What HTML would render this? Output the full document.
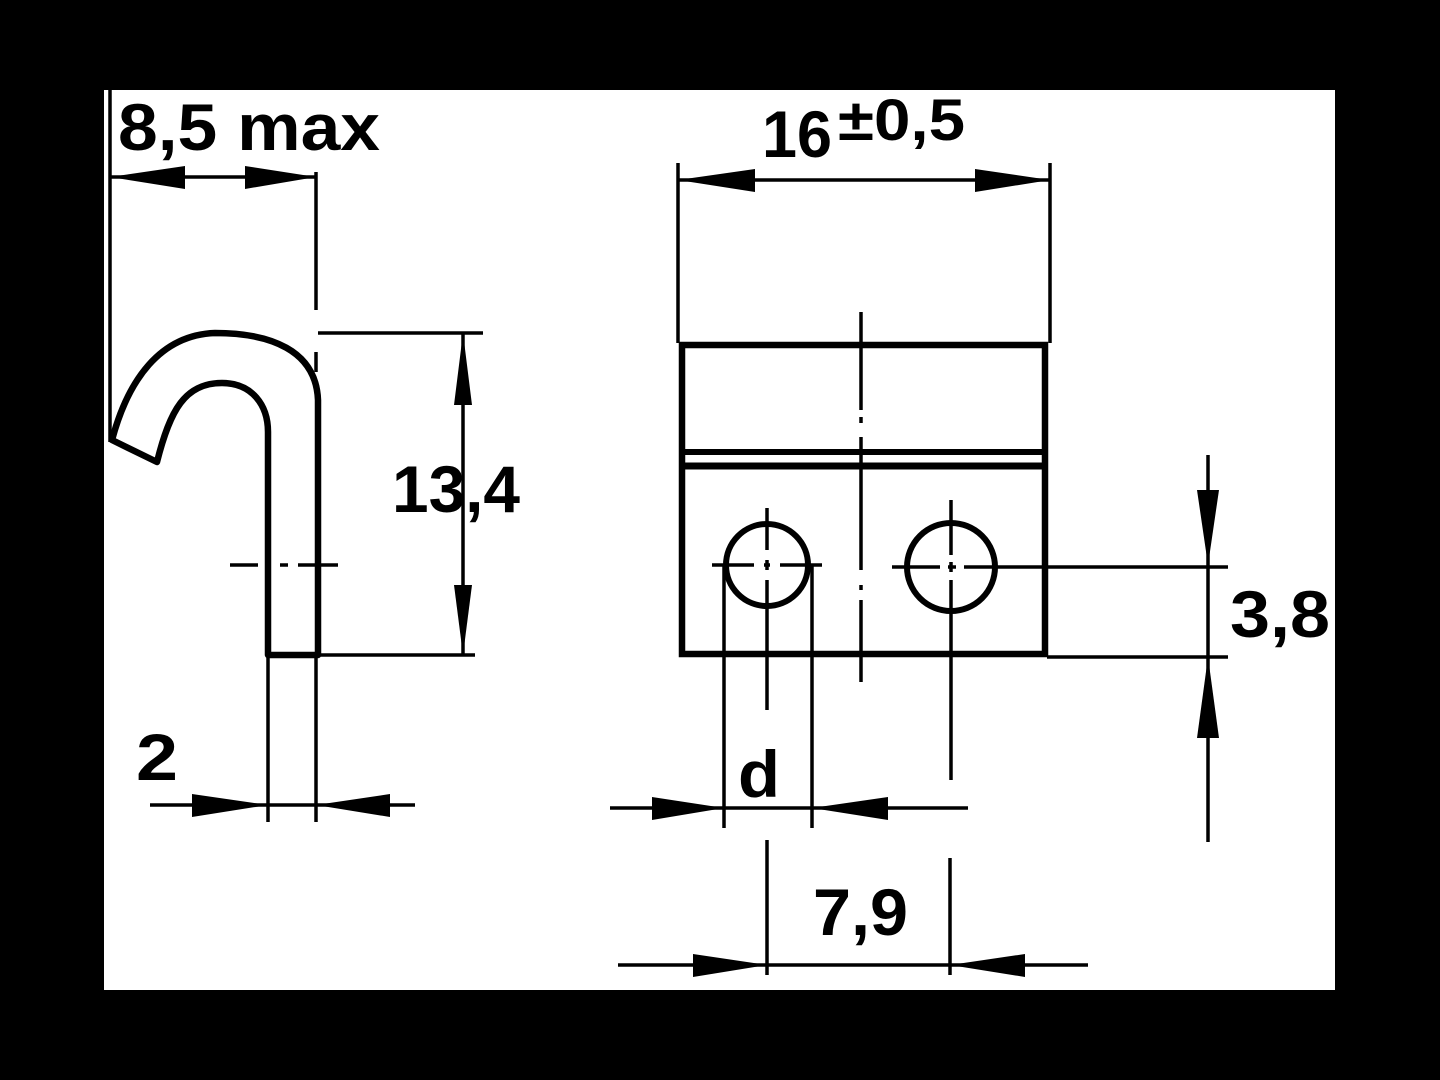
<!DOCTYPE html>
<html><head><style>html,body{margin:0;padding:0;background:#000}svg{display:block}</style></head>
<body>
<svg width="1440" height="1080" viewBox="0 0 1440 1080" xmlns="http://www.w3.org/2000/svg">
<rect width="1440" height="1080" fill="#000"/>
<rect x="104" y="90" width="1231" height="900" fill="#fff"/>
<g stroke="#000" fill="none" stroke-linecap="butt">
<path d="M318 655 L318 400 C316 350 270 333 215 333 C160 335 128 380 112 440 L157 462 C170 410 185 383 222 383 C252 383 268 405 268 432 L268 655 Z" stroke-width="6.5" stroke-linejoin="round"/>
<g stroke-width="3.5">
<line x1="110" y1="90" x2="110" y2="442"/>
<line x1="316" y1="172" x2="316" y2="310"/>
<line x1="316" y1="352" x2="316" y2="372"/>
<line x1="110" y1="177" x2="316" y2="177"/>
<line x1="318" y1="333" x2="483" y2="333"/>
<line x1="318" y1="655" x2="475" y2="655"/>
<line x1="463" y1="333" x2="463" y2="655"/>
<line x1="230" y1="565" x2="258" y2="565"/><line x1="280" y1="565" x2="288" y2="565"/><line x1="298" y1="565" x2="338" y2="565"/>
<line x1="268" y1="655" x2="268" y2="822"/>
<line x1="316" y1="655" x2="316" y2="822"/>
<line x1="150" y1="805" x2="415" y2="805"/>
<line x1="678" y1="163" x2="678" y2="343"/>
<line x1="1050" y1="163" x2="1050" y2="343"/>
<line x1="678" y1="180" x2="1050" y2="180"/>
<line x1="861" y1="312" x2="861" y2="410"/><line x1="861" y1="417" x2="861" y2="423"/><line x1="861" y1="437" x2="861" y2="570"/><line x1="861" y1="585" x2="861" y2="590"/><line x1="861" y1="600" x2="861" y2="682"/>
<line x1="712" y1="565" x2="754" y2="565"/><line x1="764" y1="565" x2="770" y2="565"/><line x1="780" y1="565" x2="822" y2="565"/>
<line x1="767" y1="508" x2="767" y2="550"/><line x1="767" y1="560" x2="767" y2="570"/><line x1="767" y1="580" x2="767" y2="710"/>
<line x1="892" y1="567" x2="940" y2="567"/><line x1="948" y1="567" x2="956" y2="567"/><line x1="964" y1="567" x2="1228" y2="567"/>
<line x1="951" y1="500" x2="951" y2="555"/><line x1="951" y1="562" x2="951" y2="572"/><line x1="951" y1="580" x2="951" y2="780"/>
<line x1="1047" y1="657" x2="1228" y2="657"/>
<line x1="1208" y1="455" x2="1208" y2="842"/>
<line x1="724" y1="565" x2="724" y2="828"/>
<line x1="812" y1="565" x2="812" y2="828"/>
<line x1="610" y1="808" x2="968" y2="808"/>
<line x1="767" y1="840" x2="767" y2="975"/>
<line x1="950" y1="858" x2="950" y2="975"/>
<line x1="618" y1="965" x2="1088" y2="965"/>
</g>
<rect x="682" y="345" width="363" height="309" stroke-width="6.5"/>
<line x1="682" y1="452" x2="1045" y2="452" stroke-width="6"/>
<line x1="682" y1="466" x2="1045" y2="466" stroke-width="7"/>
<circle cx="767" cy="565" r="41" stroke-width="6"/>
<circle cx="951" cy="567" r="44" stroke-width="6"/>
</g>
<g fill="#000">
<polygon points="110,177 185,166 185,189"/>
<polygon points="316,177 245,166 245,189"/>
<polygon points="463,333 454,405 472,405"/>
<polygon points="463,655 454,585 472,585"/>
<polygon points="268,805 192,794 192,817"/>
<polygon points="316,805 390,794 390,817"/>
<polygon points="678,180 755,169 755,192"/>
<polygon points="1050,180 975,169 975,192"/>
<polygon points="724,808 652,797 652,820"/>
<polygon points="812,808 888,797 888,820"/>
<polygon points="767,965 693,954 693,977"/>
<polygon points="950,965 1025,954 1025,977"/>
<polygon points="1208,565 1197,490 1219,490"/>
<polygon points="1208,657 1197,738 1219,738"/>
</g>
<g font-family="Liberation Sans, sans-serif" fill="#000" font-size="66" font-weight="bold" lengthAdjust="spacingAndGlyphs">
<text x="118" y="150" textLength="262" lengthAdjust="spacingAndGlyphs">8,5 max</text>
<text x="392" y="512" textLength="128" lengthAdjust="spacingAndGlyphs">13,4</text>
<text x="136" y="780" textLength="42" lengthAdjust="spacingAndGlyphs">2</text>
<text x="762" y="157" textLength="70" lengthAdjust="spacingAndGlyphs">16</text>
<text x="838" y="140" font-size="58" textLength="127" lengthAdjust="spacingAndGlyphs">±0,5</text>
<text x="738" y="797" textLength="42" lengthAdjust="spacingAndGlyphs">d</text>
<text x="813" y="935" textLength="95" lengthAdjust="spacingAndGlyphs">7,9</text>
<text x="1230" y="637" textLength="100" lengthAdjust="spacingAndGlyphs">3,8</text>
</g>
</svg>
</body></html>
